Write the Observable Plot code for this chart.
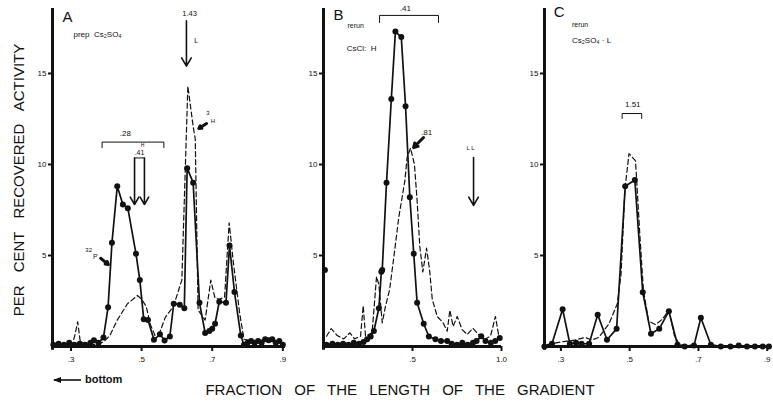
<!DOCTYPE html>
<html><head><meta charset="utf-8">
<script src="https://cdn.jsdelivr.net/npm/d3@7"></script>
<script src="https://cdn.jsdelivr.net/npm/@observablehq/plot@0.6"></script>
<style>
body{margin:0;background:#fff;}
#fig{position:relative;width:773px;height:401px;overflow:hidden;font-family:"Liberation Sans",Arial,sans-serif;color:#111;}
.panel{position:absolute;top:0;}
#ylab{position:absolute;left:-131px;top:171px;width:300px;height:18px;line-height:18px;text-align:center;font-size:15px;word-spacing:9px;transform:rotate(-90deg);white-space:nowrap;}
#xlab{position:absolute;left:150px;width:500px;top:382px;text-align:center;font-size:15px;word-spacing:8px;white-space:nowrap;line-height:16px;}
#bottom{position:absolute;left:52px;top:373px;font-size:11px;font-weight:bold;white-space:nowrap;}
g[aria-label$="axis tick"]{stroke-width:2px;}
</style>
</head><body>
<div id="fig">
  <div id="ylab">PER CENT RECOVERED ACTIVITY</div>
  <div id="xlab">FRACTION OF THE LENGTH OF THE GRADIENT</div>
  <div id="bottom"><svg width="30" height="10" style="vertical-align:middle"><path d="M2,5H29" stroke="#111" stroke-width="1.6"/><path d="M1,5L9,2L9,8Z" fill="#111"/></svg> bottom</div>
</div>
<script>
// ---- data (fraction of gradient length, per cent recovered activity) ----
const aSolid = [[0.25,0.1],[0.265,0.15],[0.28,0.1],[0.295,0.2],[0.31,0.1],[0.325,0.15],[0.34,0.1],[0.355,0.2],[0.365,0.35],[0.378,0.2],[0.392,0.5],[0.405,2.15],[0.416,5.7],[0.431,8.8],[0.447,7.8],[0.461,7.6],[0.484,5.1],[0.495,3.65],[0.506,1.5],[0.518,1.45],[0.535,0.37],[0.552,0.67],[0.565,0.33],[0.58,0.55],[0.591,2.35],[0.608,2.3],[0.621,2.1],[0.629,9.8],[0.646,9.0],[0.664,2.4],[0.68,0.74],[0.692,0.85],[0.70,0.98],[0.708,1.25],[0.72,2.46],[0.739,2.4],[0.749,5.55],[0.763,3.0],[0.781,0.6],[0.79,0.1],[0.80,0.2],[0.81,0.3],[0.82,0.2],[0.83,0.3],[0.84,0.2],[0.85,0.4],[0.86,0.35],[0.87,0.4],[0.88,0.2],[0.89,0.3],[0.9,0.1]];
const aDashed = [[0.25,0.05],[0.28,0.1],[0.305,0.15],[0.313,0.8],[0.319,1.35],[0.326,0.3],[0.34,0.1],[0.36,0.1],[0.38,0.15],[0.395,0.3],[0.41,0.6],[0.431,1.45],[0.46,2.35],[0.488,2.8],[0.5,2.6],[0.513,2.2],[0.525,1.2],[0.538,0.6],[0.552,0.8],[0.567,1.6],[0.59,2.2],[0.614,3.65],[0.631,14.3],[0.646,12.1],[0.652,11.4],[0.66,2.0],[0.68,1.45],[0.696,3.65],[0.708,2.65],[0.72,2.6],[0.735,2.7],[0.748,6.8],[0.76,4.6],[0.778,1.8],[0.79,0.4],[0.82,0.3],[0.86,0.4],[0.9,0.2]];
const bSolid = [[0.017,0.1],[0.05,0.15],[0.08,0.1],[0.11,0.15],[0.14,0.1],[0.17,0.2],[0.2,0.15],[0.225,0.25],[0.245,0.4],[0.265,0.55],[0.283,0.85],[0.311,2.1],[0.325,4.1],[0.33,4.2],[0.354,9.0],[0.381,13.6],[0.404,17.3],[0.437,17.0],[0.461,13.2],[0.485,8.2],[0.507,5.1],[0.526,2.4],[0.563,1.25],[0.592,0.55],[0.629,0.4],[0.66,0.3],[0.695,0.3],[0.72,0.15],[0.75,0.1],[0.78,0.2],[0.81,0.1],[0.84,0.2],[0.86,0.3],[0.886,0.56],[0.91,0.3],[0.94,0.2],[0.965,0.3],[0.99,0.47]];
const bLone = [[0.008,4.2]];
const bDashed = [[0.017,0.56],[0.043,0.98],[0.077,0.6],[0.114,0.42],[0.148,0.75],[0.174,0.42],[0.208,0.56],[0.223,2.24],[0.236,0.56],[0.273,0.75],[0.298,3.84],[0.311,3.4],[0.33,1.3],[0.348,2.2],[0.371,3.1],[0.395,4.9],[0.423,7.1],[0.457,9.1],[0.47,10.4],[0.489,10.9],[0.511,10.0],[0.526,8.0],[0.541,5.5],[0.558,4.1],[0.579,5.4],[0.596,4.2],[0.611,2.6],[0.639,1.65],[0.672,1.3],[0.695,0.84],[0.71,2.0],[0.728,1.1],[0.751,1.65],[0.779,0.93],[0.807,0.66],[0.839,1.0],[0.863,0.75],[0.9,0.38],[0.938,0.56],[0.966,1.65],[0.985,0.56]];
const cSolid = [[0.252,0],[0.274,0.15],[0.305,2.05],[0.326,0.15],[0.344,0.2],[0.36,0.15],[0.382,0.15],[0.407,1.75],[0.434,0.37],[0.462,0.97],[0.487,8.8],[0.515,9.15],[0.538,2.98],[0.562,0.7],[0.586,0.97],[0.614,1.94],[0.639,0.1],[0.66,0],[0.687,0.05],[0.707,1.58],[0.736,0.1],[0.765,0],[0.793,0],[0.817,0.05],[0.841,0],[0.864,0],[0.887,0],[0.905,0]];
const cDashed = [[0.26,0.1],[0.3,0.25],[0.34,0.35],[0.37,0.5],[0.39,0.35],[0.41,0.5],[0.44,1.25],[0.464,2.35],[0.475,4.0],[0.486,8.6],[0.498,10.6],[0.517,10.2],[0.53,6.0],[0.54,3.1],[0.555,1.4],[0.575,1.2],[0.595,1.5],[0.614,2.0],[0.63,0.6],[0.645,0.1],[0.7,0.05],[0.9,0]];

const yTicks = [5, 10, 15];
const acTicks = [0.3, 0.5, 0.7, 0.9];
const acTickLabels = [".3", ".5", ".7", ".9"];
const bTicks = [0.5, 1.0];
const bTickLabels = [".5", "1.0"];

// annotations (data coordinates)
const aTexts = [
  {x:0.29,y:18.1,t:"A",s:15},
  {x:0.307,y:17.15,t:"prep  Cs₂SO₄",s:8,a:"start"},
  {x:0.636,y:18.3,t:"1.43",s:7.5},
  {x:0.655,y:16.8,t:"L",s:7},
  {x:0.688,y:12.8,t:"3",s:6},
  {x:0.702,y:12.4,t:"H",s:6},
  {x:0.454,y:11.7,t:".28",s:8},
  {x:0.503,y:11.03,t:"H",s:5},
  {x:0.494,y:10.62,t:".41",s:7},
  {x:0.35,y:5.3,t:"32",s:6},
  {x:0.369,y:4.95,t:"P",s:7}
];
const aArrows = [
  {x1:0.627,y1:17.9,x2:0.627,y2:15.4,w:1.6,h:9},
  {x1:0.48,y1:10.36,x2:0.48,y2:7.8,w:1.6,h:8},
  {x1:0.508,y1:10.36,x2:0.508,y2:7.8,w:1.6,h:8},
  {x1:0.684,y1:12.25,x2:0.662,y2:11.98,w:3,h:5},
  {x1:0.384,y1:4.85,x2:0.406,y2:4.5,w:3,h:5}
];
const aBrackets = [
  [[0.388,10.93],[0.388,11.23],[0.563,11.23],[0.563,10.93]],
  [[0.48,10.36],[0.508,10.36]]
];
const bTexts = [
  {x:0.084,y:18.2,t:"B",s:15},
  {x:0.46,y:18.57,t:".41",s:8},
  {x:0.135,y:17.6,t:"rerun",s:7,a:"start"},
  {x:0.13,y:16.4,t:"CsCl:  H",s:8,a:"start"},
  {x:0.579,y:11.76,t:".81",s:8},
  {x:0.826,y:10.88,t:"L L",s:6}
];
const bArrows = [
  {x1:0.562,y1:11.48,x2:0.506,y2:10.93,w:3,h:5},
  {x1:0.843,y1:10.38,x2:0.843,y2:7.75,w:1.6,h:9}
];
const bBrackets = [[[0.315,17.8],[0.315,18.19],[0.646,18.19],[0.646,17.8]]];
const cTexts = [
  {x:0.295,y:18.35,t:"C",s:15},
  {x:0.332,y:17.7,t:"rerun",s:7,a:"start"},
  {x:0.332,y:16.8,t:"Cs₂SO₄ · L",s:8,a:"start"},
  {x:0.509,y:13.3,t:"1.51",s:8}
];
const cArrows = [];
const cBrackets = [[[0.478,12.53],[0.478,12.8],[0.535,12.8],[0.535,12.53]]];

function panel({left, width, mL, mR, xDomain, ticks, labels, solid, dashed, lone, texts, arrows, brackets}) {
  const pts = a => a.map(([x, y]) => ({x, y}));
  const bracketData = brackets.flatMap((b, i) => b.map(([x, y]) => ({x, y, k: i})));
  const marks = [
    Plot.ruleY([0], {strokeWidth: 3}),
    Plot.ruleX([xDomain[0]], {strokeWidth: 3, y1: -0.2, y2: 18.57}),
    Plot.line(pts(dashed), {x: "x", y: "y", strokeWidth: 1.2, strokeDasharray: "5,3"}),
    Plot.line(pts(solid), {x: "x", y: "y", strokeWidth: 1.7}),
    Plot.dot(pts(solid), {x: "x", y: "y", r: 3, fill: "#111", stroke: null}),
    Plot.dot(pts(lone), {x: "x", y: "y", r: 3, fill: "#111", stroke: null}),
    Plot.line(bracketData, {x: "x", y: "y", z: "k", strokeWidth: 1}),
    ...texts.map(d => Plot.text([d], {x: "x", y: "y", text: "t", fontSize: d.s, textAnchor: d.a || "middle", fill: "#111"})),
    ...arrows.map(d => Plot.arrow([d], {x1: "x1", y1: "y1", x2: "x2", y2: "y2", strokeWidth: d.w, headLength: d.h, stroke: "#111"}))
  ];
  const svg = Plot.plot({
    width, height: 372,
    marginTop: 8, marginBottom: 26, marginLeft: mL, marginRight: mR,
    style: {fontFamily: "Liberation Sans, Arial, sans-serif", fontSize: "8px", background: "transparent", overflow: "visible", color: "#111"},
    x: {domain: xDomain, ticks, tickFormat: (d, i) => labels[i], tickSize: 5, tickPadding: 5, label: null},
    y: {domain: [0, 18.57], ticks: yTicks, tickSize: 4, tickPadding: 2, label: null},
    marks
  });
  svg.classList.add("panel");
  svg.style.left = left + "px";
  document.getElementById("fig").appendChild(svg);
}

panel({left: 0, width: 300, mL: 52, mR: 15, xDomain: [0.2476, 0.9076], ticks: acTicks, labels: acTickLabels,
  solid: aSolid, dashed: aDashed, lone: [], texts: aTexts, arrows: aArrows, brackets: aBrackets});
panel({left: 300, width: 222, mL: 23, mR: 21, xDomain: [0, 1.0], ticks: bTicks, labels: bTickLabels,
  solid: bSolid, dashed: bDashed, lone: bLone, texts: bTexts, arrows: bArrows, brackets: bBrackets});
panel({left: 525, width: 248, mL: 19, mR: 4, xDomain: [0.2523, 0.9066], ticks: acTicks, labels: acTickLabels,
  solid: cSolid, dashed: cDashed, lone: [], texts: cTexts, arrows: cArrows, brackets: cBrackets});
</script>
</body></html>
